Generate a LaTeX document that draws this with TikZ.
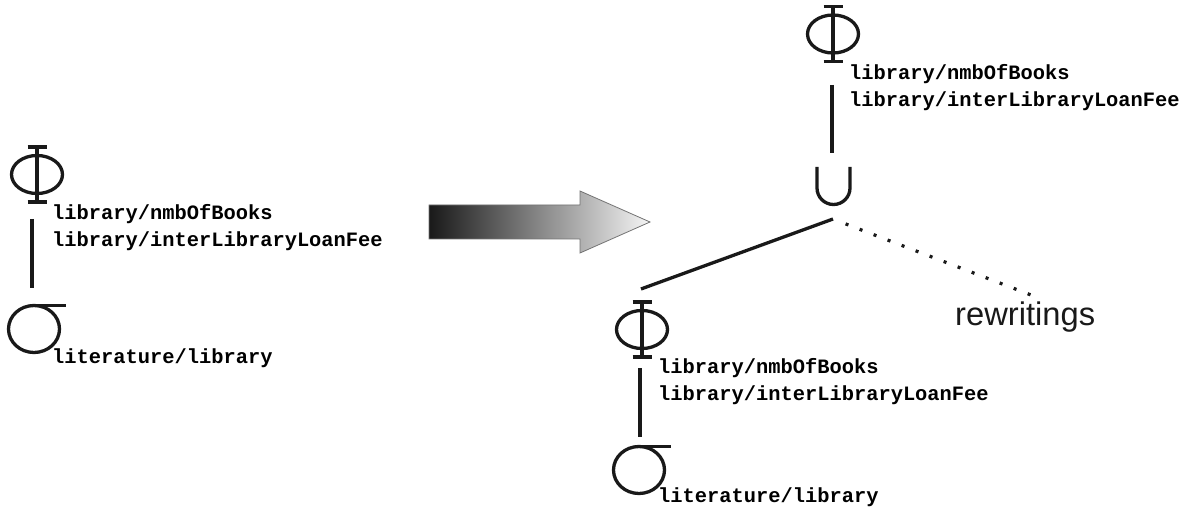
\documentclass[tikz,border=0pt]{standalone}
\usepackage{fontspec}
\setmainfont{Liberation Sans}
\newfontfamily\codefont{Liberation Mono}
\begin{document}
\begin{tikzpicture}[x=1pt,y=-1pt,
  glyph/.style={line width=3.3pt, black!90},
  conn/.style={line width=3.3pt, black!90},
  dotconn/.style={line width=3.2pt, black!90, dash pattern=on 3pt off 12pt},
  code/.style={anchor=base west, inner sep=0pt, font=\codefont\bfseries\fontsize{20.4}{25}\selectfont},
  lbl/.style={anchor=base west, inner sep=0pt, font=\fontsize{32.7}{36}\selectfont, black!90},
  phi/.pic={
    \draw[glyph] (0,-27.5) -- (0,27.5);
    \draw[glyph] (-9.5,-27.5) -- (9.5,-27.5);
    \draw[glyph] (-9.5,27.5) -- (9.5,27.5);
    \draw[glyph] (0,0) ellipse [x radius=25.5, y radius=19];
  },
  sigma/.pic={
    \draw[glyph] (0,0) ellipse [x radius=25.5, y radius=23.5];
    \draw[glyph] (0,-23.5) -- (32,-23.5);
  },
  cup/.pic={
    \draw[glyph] (-16.5,-19) -- (-16.5,2) arc[start angle=180, end angle=0, radius=16.5] -- (16.5,-19);
  }
]
\useasboundingbox (0,0) rectangle (1189,513);

% ---------- left tree ----------
\pic (phiL) at (37,174.5) {phi};
\pic (sigL) at (34,329) {sigma};
\node[code] (tL1) at (52,220) {library/nmbOfBooks};
\node[code] (tL2) at (52,247) {library/interLibraryLoanFee};
\node[code] (tL3) at (52,363) {literature/library};
\coordinate (phiLb) at (32,219);
\coordinate (sigLt) at (32,288);
\draw[conn] (phiLb) -- (sigLt);

% ---------- arrow ----------
\path[draw=black!55, line width=0.8pt, left color=black!90, right color=black!4]
  (429,205) -- (580,205) -- (580,191) -- (650,222) -- (580,253) -- (580,239) -- (429,239) -- cycle;

% ---------- right tree ----------
\pic (phiT) at (833,34) {phi};
\node[code] (tT1) at (849,80) {library/nmbOfBooks};
\node[code] (tT2) at (849,107) {library/interLibraryLoanFee};
\coordinate (phiTb) at (832,85);
\coordinate (cupT) at (832,153);
\draw[conn] (phiTb) -- (cupT);

\pic (cupU) at (833.5,186) {cup};
\coordinate (cupB) at (833,219);
\coordinate (phiBt) at (641,289);
\draw[conn] (cupB) -- (phiBt);
\coordinate (dotS) at (845.6,223.9);
\coordinate (dotE) at (1031,295);
\draw[dotconn] (dotS) -- (dotE);
\node[lbl] (rw) at (955,325) {rewritings};

\pic (phiB) at (642,329.5) {phi};
\node[code] (tB1) at (658,373) {library/nmbOfBooks};
\node[code] (tB2) at (658,400) {library/interLibraryLoanFee};
\coordinate (phiBb) at (640,368);
\coordinate (sigBt) at (640,437);
\draw[conn] (phiBb) -- (sigBt);
\pic (sigB) at (639,470) {sigma};
\node[code] (tB3) at (658,502) {literature/library};
\end{tikzpicture}
\end{document}
